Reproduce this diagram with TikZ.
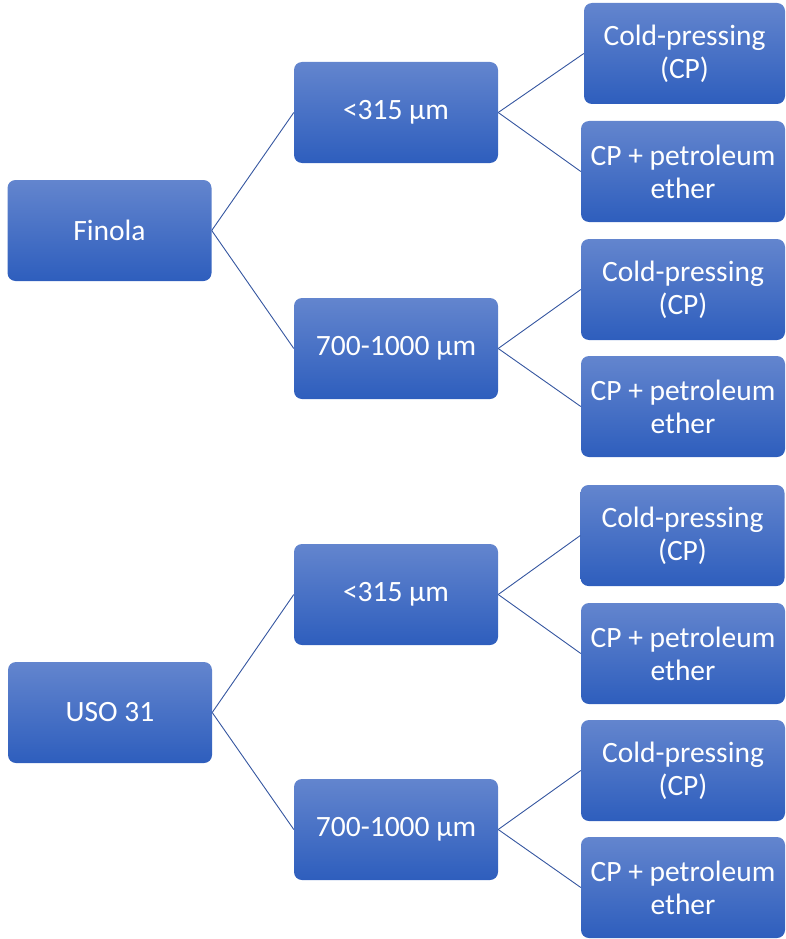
\documentclass[tikz,border=0pt]{standalone}
\usepackage{fontspec}
\setmainfont{Carlito}
\definecolor{boxtop}{HTML}{6385CE}
\definecolor{boxbot}{HTML}{2E5EBD}
\definecolor{linkc}{HTML}{3556A0}
\begin{document}
\begin{tikzpicture}[x=1pt,y=-1pt,
  box/.style={rounded corners=8pt, top color=boxtop, bottom color=boxbot, draw=none,
    minimum width=204pt, minimum height=101pt, inner sep=0pt, align=center,
    text=white, font=\fontsize{29.5}{33}\selectfont},
  link/.style={draw=linkc, line width=0.9pt}]
\useasboundingbox (0,0) rectangle (785,939);
\node[box] (f) at (109.5,230.5) {Finola};
\node[box] (u) at (110,712.5) {USO 31};
\node[box] (f1) at (396,112.5) {<315 µm};
\node[box] (f2) at (396,348.5) {700-1000 µm};
\node[box] (u1) at (396,594.5) {<315 µm};
\node[box] (u2) at (396,829.5) {700-1000 µm};
\node[box, minimum width=201pt] (l1) at (684.5,53.5) {Cold-pressing\\(CP)};
\node[box] (l2) at (683,171.5) {CP + petroleum\\ether};
\node[box] (l3) at (683,289.5) {Cold-pressing\\(CP)};
\node[box] (l4) at (683,406.5) {CP + petroleum\\ether};
\node[box] (l5) at (682.5,535.5) {Cold-pressing\\(CP)};
\node[box] (l6) at (683,653.5) {CP + petroleum\\ether};
\node[box] (l7) at (683,770.5) {Cold-pressing\\(CP)};
\node[box] (l8) at (683,887.5) {CP + petroleum\\ether};
\draw[link] (f.east) -- (f1.west);
\draw[link] (f.east) -- (f2.west);
\draw[link] (u.east) -- (u1.west);
\draw[link] (u.east) -- (u2.west);
\draw[link] (f1.east) -- (l1.west);
\draw[link] (f1.east) -- (l2.west);
\draw[link] (f2.east) -- (l3.west);
\draw[link] (f2.east) -- (l4.west);
\draw[link] (u1.east) -- (l5.west);
\draw[link] (u1.east) -- (l6.west);
\draw[link] (u2.east) -- (l7.west);
\draw[link] (u2.east) -- (l8.west);
\end{tikzpicture}
\end{document}
